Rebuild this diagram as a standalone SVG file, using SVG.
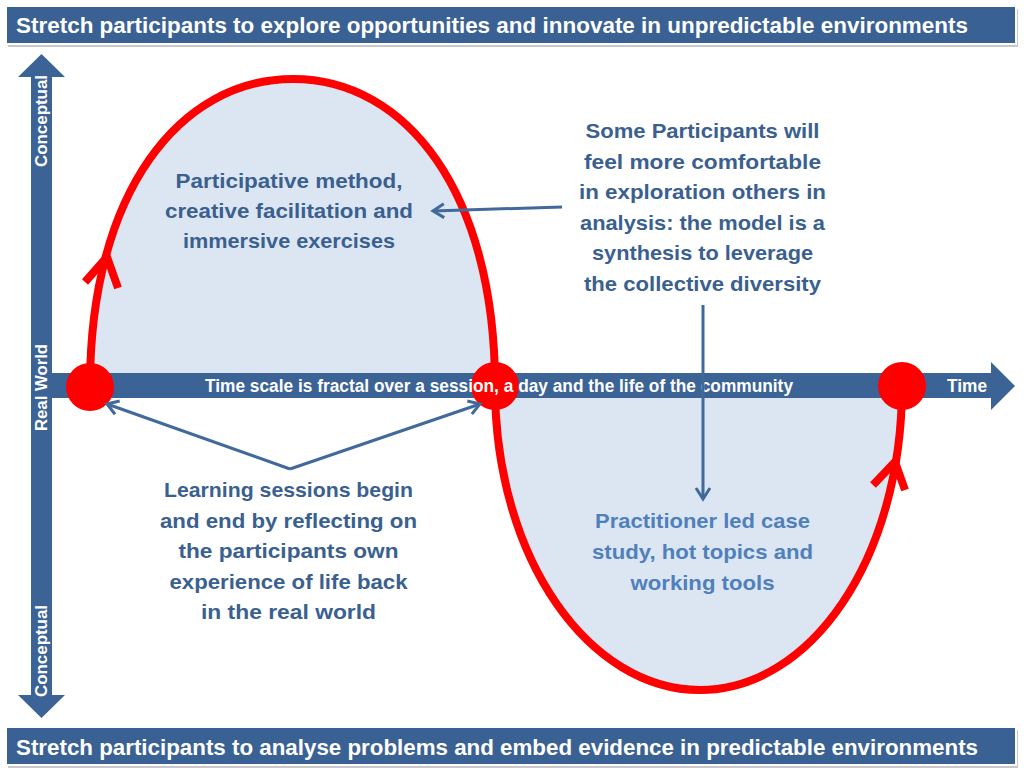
<svg xmlns="http://www.w3.org/2000/svg" width="1024" height="772" viewBox="0 0 1024 772">
<defs>
<style>
.banner{fill:#3A6194;stroke:#FFFFFF;stroke-width:2}
.shadow{fill:#C8C8C8}
.btxt{font-family:"Liberation Sans",Arial,sans-serif;font-weight:700;font-size:22px;fill:#FFFFFF}
.axis{fill:#3B6396}
.atxt{font-family:"Liberation Sans",Arial,sans-serif;font-weight:700;font-size:17.5px;fill:#FFFFFF}
.vtxt{font-family:"Liberation Sans",Arial,sans-serif;font-weight:700;font-size:16.5px;fill:#FFFFFF}
.lobe{fill:#DCE6F2}
.curve{fill:none;stroke:#FF0000;stroke-width:8}
.redhead{fill:none;stroke:#FF0000;stroke-width:8;stroke-linejoin:miter}
.dot{fill:#FF0000}
.t{font-family:"Liberation Sans",Arial,sans-serif;font-weight:700;font-size:20.5px;fill:#3A6090;text-anchor:middle}
.t2{font-family:"Liberation Sans",Arial,sans-serif;font-weight:700;font-size:20.5px;fill:#4F80BC;text-anchor:middle}
.conn{fill:none;stroke:#41699B;stroke-width:3}
</style>
<marker id="ah" markerUnits="userSpaceOnUse" markerWidth="20" markerHeight="20" viewBox="-14 -10 16 20" refX="0" refY="0" orient="auto">
<path d="M-11,-7 L0,0 L-11,7" fill="none" stroke="#41699B" stroke-width="3"/>
</marker>
</defs>
<rect width="1024" height="772" fill="#FFFFFF"/>

<g id="banner-top">
<rect class="shadow" x="8" y="9" width="1010" height="38"/>
<rect class="banner" x="6" y="6" width="1010" height="38"/>
<text class="btxt" x="16" y="33" textLength="952" lengthAdjust="spacingAndGlyphs">Stretch participants to explore opportunities and innovate in unpredictable environments</text>
</g>

<g id="banner-bottom">
<rect class="shadow" x="8" y="730" width="1010" height="38"/>
<rect class="banner" x="6" y="727" width="1010" height="38"/>
<text class="btxt" x="16" y="755" textLength="962" lengthAdjust="spacingAndGlyphs">Stretch participants to analyse problems and embed evidence in predictable environments</text>
</g>

<g id="lobes">
<path class="lobe" d="M90,386 C90,192 180,79 293,79 C406,79 495,192 495,386 Z"/>
<path class="lobe" d="M495,386 C495,560 590,690 700,690 C810,690 902,560 902,386 Z"/>
</g>

<g id="axes">
<path class="axis" d="M31,77 L18,77 L41.5,54 L65,77 L52,77 L52,695 L65,695 L41.5,718 L18,695 L31,695 Z"/>
<path class="axis" d="M31,373 L991,373 L991,362 L1015,386 L991,410 L991,398 L31,398 Z"/>
</g>

<g id="cycle">
<path class="curve" d="M90,386 C90,192 180,79 293,79 C406,79 495,192 495,386"/>
<path class="curve" d="M495,386 C495,560 590,690 700,690 C810,690 902,560 902,386"/>
<path class="redhead" d="M85,282 L107,257 L118,288"/>
<path class="redhead" d="M873,485 L895,462 L905,490"/>
</g>

<g id="session-points">
<circle class="dot" cx="90" cy="387" r="24"/>
<circle class="dot" cx="495" cy="386" r="24"/>
<circle class="dot" cx="902" cy="386" r="24"/>
</g>

<g id="axis-labels">
<text class="atxt" x="205" y="392" textLength="588" lengthAdjust="spacingAndGlyphs">Time scale is fractal over a session, a day and the life of the community</text>
<text class="atxt" x="947" y="392" textLength="40" lengthAdjust="spacingAndGlyphs">Time</text>
<text class="vtxt" transform="translate(47,167) rotate(-90)" x="0" y="0" textLength="92" lengthAdjust="spacingAndGlyphs">Conceptual</text>
<text class="vtxt" transform="translate(47,431) rotate(-90)" x="0" y="0" textLength="87" lengthAdjust="spacingAndGlyphs">Real World</text>
<text class="vtxt" transform="translate(47,697) rotate(-90)" x="0" y="0" textLength="92" lengthAdjust="spacingAndGlyphs">Conceptual</text>
</g>

<g id="exploration-text">
<text class="t" x="289" y="188" textLength="227" lengthAdjust="spacingAndGlyphs">Participative method,</text>
<text class="t" x="289" y="218" textLength="248" lengthAdjust="spacingAndGlyphs">creative facilitation and</text>
<text class="t" x="289" y="248" textLength="212" lengthAdjust="spacingAndGlyphs">immersive exercises</text>
</g>

<g id="synthesis-text">
<text class="t" x="702.5" y="138" textLength="234" lengthAdjust="spacingAndGlyphs">Some Participants will</text>
<text class="t" x="702.5" y="168.5" textLength="237" lengthAdjust="spacingAndGlyphs">feel more comfortable</text>
<text class="t" x="702.5" y="199" textLength="247" lengthAdjust="spacingAndGlyphs">in exploration others in</text>
<text class="t" x="702.5" y="229.5" textLength="245" lengthAdjust="spacingAndGlyphs">analysis: the model is a</text>
<text class="t" x="702.5" y="260" textLength="221" lengthAdjust="spacingAndGlyphs">synthesis to leverage</text>
<text class="t" x="702.5" y="290.5" textLength="237" lengthAdjust="spacingAndGlyphs">the collective diversity</text>
</g>

<g id="reflection-text">
<text class="t" x="288.5" y="497" textLength="249" lengthAdjust="spacingAndGlyphs">Learning sessions begin</text>
<text class="t" x="288.5" y="527.5" textLength="257" lengthAdjust="spacingAndGlyphs">and end by reflecting on</text>
<text class="t" x="288.5" y="558" textLength="220" lengthAdjust="spacingAndGlyphs">the participants own</text>
<text class="t" x="288.5" y="588.5" textLength="238" lengthAdjust="spacingAndGlyphs">experience of life back</text>
<text class="t" x="288.5" y="619" textLength="175" lengthAdjust="spacingAndGlyphs">in the real world</text>
</g>

<g id="analysis-text">
<text class="t2" x="702.5" y="528" textLength="215" lengthAdjust="spacingAndGlyphs">Practitioner led case</text>
<text class="t2" x="702.5" y="559" textLength="221" lengthAdjust="spacingAndGlyphs">study, hot topics and</text>
<text class="t2" x="702.5" y="590" textLength="144" lengthAdjust="spacingAndGlyphs">working tools</text>
</g>

<g id="connectors">
<line class="conn" x1="562" y1="207" x2="433" y2="211" marker-end="url(#ah)"/>
<line class="conn" x1="703" y1="305" x2="703" y2="499" marker-end="url(#ah)"/>
<line class="conn" x1="290" y1="469" x2="107" y2="404" marker-end="url(#ah)"/>
<line class="conn" x1="290" y1="469" x2="480" y2="404" marker-end="url(#ah)"/>
</g>
</svg>
